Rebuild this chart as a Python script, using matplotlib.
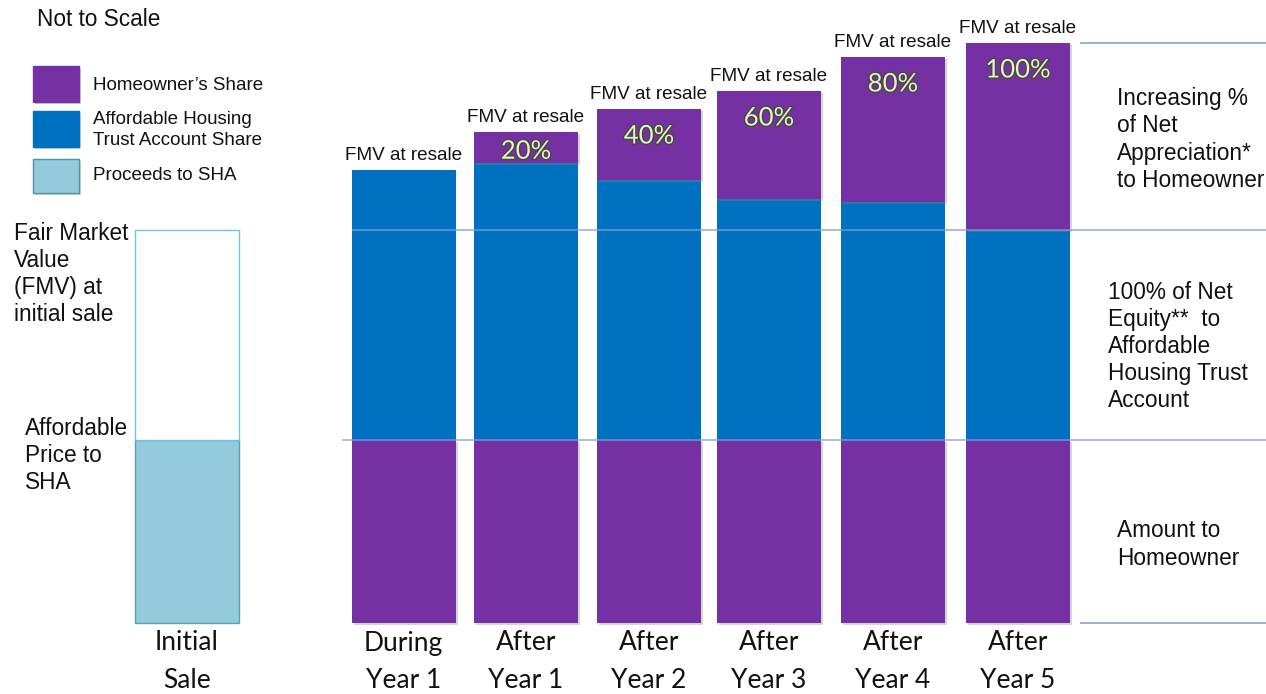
import matplotlib
matplotlib.use("Agg")
import matplotlib.pyplot as plt
import matplotlib.patheffects as pe
from matplotlib.patches import Rectangle

# ---------------- data (diagram units, "not to scale") ----------------
categories = ["Initial\nSale", "During\nYear 1", "After\nYear 1", "After\nYear 2",
              "After\nYear 3", "After\nYear 4", "After\nYear 5"]
affordable_price = 183          # Proceeds to SHA (initial sale)
fmv_initial_gap = 210           # FMV at initial sale above affordable price
homeowner_base = [183, 183, 183, 183, 183, 183]
trust_share = [270, 277, 260, 241, 238, 210]
appreciation_share = [0, 31, 71, 108, 145, 187]
pct_labels = ["", "20%", "40%", "60%", "80%", "100%"]
legend_labels = ["Homeowner\u2019s Share", "Affordable Housing\nTrust Account Share", "Proceeds to SHA"]

# ---------------- style ----------------
PURPLE = "#7531A4"
BLUE = "#0070C0"
LIGHT = "#94CBDC"
LINE = "#7F9ED2"
SANS = ["Liberation Sans", "DejaVu Sans"]
CAL = ["Lato", "DejaVu Sans"]
BIG = 16.3
LS = 1.225

fig = plt.figure(figsize=(12.66, 6.94), dpi=100)
ax = fig.add_axes([0, 0, 1, 1])
ax.set_xlim(0, 1266)
ax.set_ylim(-71, 623)
ax.axis("off")

shadow = [pe.SimplePatchShadow(offset=(1.5, -1.5), shadow_rgbFace="#888888", alpha=0.35), pe.Normal()]

# initial sale bar
x0 = 187
w = 104
ax.bar(x0, affordable_price, width=w, color=LIGHT, edgecolor="#5E9EB3", linewidth=1.0, zorder=2)
ax.bar(x0, fmv_initial_gap, bottom=affordable_price, width=w, color="white",
       edgecolor="#6CC4EA", linewidth=1.0, zorder=2)

# resale bars
xs = [403.5, 526, 649, 769, 893, 1018]
bars1 = ax.bar(xs, homeowner_base, width=w, color=PURPLE, zorder=2)
bars2 = ax.bar(xs, trust_share, bottom=homeowner_base, width=w, color=BLUE, zorder=2)
bot3 = [a + t for a, t in zip(homeowner_base, trust_share)]
bars3 = ax.bar(xs, appreciation_share, bottom=bot3, width=w, color=PURPLE, zorder=2)
for bb in list(bars1) + list(bars3):
    bb.set_path_effects(shadow)

# horizontal guide lines
y_app = homeowner_base[-1] + trust_share[-1]
y_top = y_app + appreciation_share[-1]
ax.hlines(y_top, 1080, 1266, color=LINE, lw=1.1, zorder=4)
ax.hlines(y_app, 352, 1266, color=LINE, lw=1.1, zorder=4, alpha=0.85)
ax.hlines(homeowner_base[0], 342, 1266, color=LINE, lw=1.1, zorder=4, alpha=0.85)
ax.hlines(0, 1080, 1266, color=LINE, lw=1.1, zorder=4)

# FMV at resale labels and percentages
glow = [pe.withStroke(linewidth=2.0, foreground="#444C33")]
for x, hb, t, a, p in zip(xs, homeowner_base, trust_share, appreciation_share, pct_labels):
    top = hb + t + a
    ax.text(x, top + 6, "FMV at resale", ha="center", va="bottom", fontsize=13.6,
            family=SANS, color="#111111", zorder=5)
    if p:
        off = min(27, 0.62 * a)
        ax.text(x, top - off, p, ha="center", va="center", fontsize=18.5, family=CAL,
                color="#E9EEDA", path_effects=glow, zorder=5)

# category labels
for x, c in zip([x0] + xs, categories):
    l1, l2 = c.split("\n")
    ax.text(x, 623 - 643, l1, ha="center", va="center", fontsize=19, family=CAL, color="#111111")
    ax.text(x, 623 - 680, l2, ha="center", va="center", fontsize=19, family=CAL, color="#111111")

# "Not to Scale" and legend
ax.text(37, 623 - 19, "Not to Scale", ha="left", va="center", fontsize=BIG, family=SANS, color="#111111")
leg_colors = [PURPLE, BLUE, LIGHT]
leg_edges = [PURPLE, BLUE, "#4E93AA"]
leg_boxes = [(66, 102), (111, 147), (159, 193)]
leg_text_y = [85, 130, 176]
for col, ec, (t0, t1), ty, lab in zip(leg_colors, leg_edges, leg_boxes, leg_text_y, legend_labels):
    r = Rectangle((33, 623 - t1), 46, t1 - t0, facecolor=col, edgecolor=ec, lw=1.0, zorder=3)
    r.set_path_effects(shadow)
    ax.add_patch(r)
    ax.text(93, 623 - ty, lab, ha="left", va="center", fontsize=13.5, family=SANS,
            color="#111111", linespacing=1.3)

# left annotations
ax.text(14, 623 - 274, "Fair Market\nValue\n(FMV) at\ninitial sale", ha="left", va="center",
        fontsize=BIG, family=SANS, color="#111111", linespacing=LS)
ax.text(25, 623 - 455.5, "Affordable\nPrice to\nSHA", ha="left", va="center",
        fontsize=BIG, family=SANS, color="#111111", linespacing=LS)

# right annotations
ax.text(1117, 623 - 139.5, "Increasing %\nof Net\nAppreciation*\nto Homeowner", ha="left", va="center",
        fontsize=BIG, family=SANS, color="#111111", linespacing=LS)
ax.text(1108, 623 - 346.5, "100% of Net\nEquity**  to\nAffordable\nHousing Trust\nAccount", ha="left",
        va="center", fontsize=BIG, family=SANS, color="#111111", linespacing=LS)
ax.text(1117, 623 - 544.5, "Amount to\nHomeowner", ha="left", va="center",
        fontsize=BIG, family=SANS, color="#111111", linespacing=LS)

fig.savefig("out.png", dpi=100)
